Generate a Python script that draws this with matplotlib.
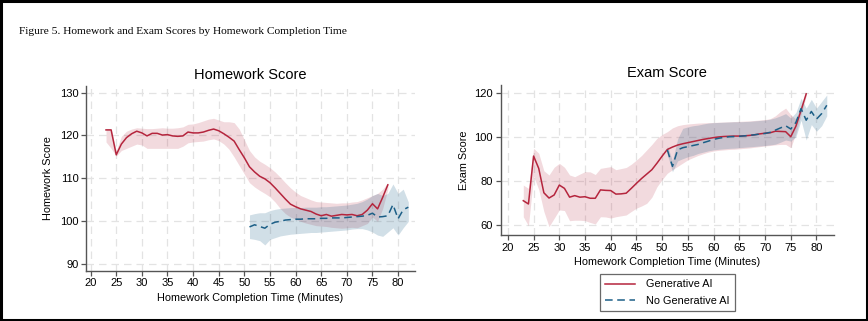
import numpy as np
import matplotlib
matplotlib.use("Agg")
import matplotlib.pyplot as plt
from matplotlib.patches import Rectangle

plt.rcParams['font.family'] = ['Liberation Sans', 'DejaVu Sans']

# %% Data
# Homework score, Generative AI
hw_gen_x = list(range(23, 79))
hw_gen = [121.3, 121.3, 115.5, 118.0, 119.5, 120.4, 121.0, 120.6, 119.9, 120.5,
          120.5, 120.1, 120.2, 119.9, 119.8, 119.9, 120.8, 120.6, 120.6, 120.8,
          121.2, 121.5, 121.1, 120.4, 119.6, 118.7, 116.7, 114.8, 112.7, 111.5,
          110.5, 109.9, 109.0, 107.8, 106.5, 105.2, 104.0, 103.4, 102.9, 102.6,
          102.3, 101.7, 101.3, 101.6, 101.2, 101.4, 101.6, 101.5, 101.6, 101.3,
          101.6, 102.6, 104.1, 102.9, 105.6, 108.5]
hw_gen_hi = [121.6, 121.5, 116.5, 119.8, 121.0, 121.5, 121.8, 121.7, 121.6, 121.6,
             121.7, 121.8, 121.7, 121.7, 121.8, 122.0, 122.6, 122.7, 123.0, 123.4,
             123.8, 124.0, 123.6, 123.2, 123.2, 123.0, 121.5, 119.0, 116.5, 115.0,
             114.0, 113.3, 112.5, 111.5, 110.3, 109.0, 107.8, 106.8, 106.0, 105.5,
             105.0, 104.6, 104.5, 104.4, 104.3, 104.2, 104.3, 104.3, 104.5, 104.6,
             105.0, 105.5, 106.0, 106.5, 107.5, 109.0]
hw_gen_lo = [118.5, 117.0, 115.2, 116.5, 117.0, 117.5, 118.0, 117.8, 117.0, 117.0,
             117.0, 117.0, 117.0, 117.0, 117.0, 117.5, 118.3, 118.5, 118.6, 118.7,
             119.0, 119.2, 118.8, 118.0, 116.8, 115.0, 113.0, 111.0, 109.0, 108.0,
             107.2, 106.5, 105.7, 104.5, 103.0, 101.8, 101.0, 100.5, 100.0, 99.6,
             99.3, 99.0, 98.9, 98.8, 98.6, 98.5, 98.4, 98.5, 98.6, 98.5,
             99.0, 99.5, 101.0, 100.0, 103.0, 107.5]

# Homework score, No Generative AI
hw_nogen_x = list(range(51, 83))
hw_nogen = [98.7, 99.2, 98.8, 98.4, 99.3, 99.8, 100.0, 100.3, 100.4, 100.5,
            100.5, 100.6, 100.6, 100.6, 100.7, 100.7, 100.8, 100.8, 100.8, 100.9,
            101.0, 101.1, 101.2, 101.4, 101.9, 101.0, 101.1, 101.3, 103.9, 100.6,
            102.7, 103.3]
hw_nogen_hi = [101.5, 101.8, 102.0, 102.0, 102.5, 102.8, 103.0, 103.1, 103.2, 103.2,
               103.2, 103.3, 103.3, 103.3, 103.4, 103.4, 103.5, 103.6, 103.7, 103.8,
               104.0, 104.2, 104.6, 105.2, 106.0, 106.5, 106.0, 106.5, 108.7, 106.5,
               107.5, 104.5]
hw_nogen_lo = [96.0, 95.8, 95.5, 94.5, 95.8, 96.2, 96.6, 96.8, 97.0, 97.1,
               97.2, 97.3, 97.4, 97.4, 97.5, 97.6, 97.7, 97.8, 97.9, 98.0,
               98.2, 98.3, 98.3, 98.0, 97.5, 96.8, 96.5, 97.5, 98.5, 96.8,
               98.5, 100.0]

# Exam score, Generative AI
ex_gen_x = list(range(23, 79))
ex_gen = [70.9, 69.4, 91.2, 85.6, 74.5, 72.1, 73.5, 78.0, 76.5, 72.5,
          73.2, 72.5, 72.7, 72.0, 72.0, 75.8, 75.6, 75.5, 73.9, 74.0,
          74.3, 76.5, 78.8, 81.0, 83.0, 85.0, 88.0, 91.2, 94.2, 95.3,
          96.2, 96.8, 97.3, 97.8, 98.3, 98.8, 99.2, 99.6, 99.9, 100.1,
          100.2, 100.3, 100.3, 100.4, 100.6, 100.9, 101.3, 101.6, 101.8, 102.5,
          102.4, 102.3, 100.0, 104.8, 112.0, 119.5]
ex_gen_hi = [78.0, 76.5, 94.7, 92.5, 84.5, 82.6, 86.1, 87.9, 86.1, 82.6,
             81.8, 83.0, 84.1, 84.0, 82.8, 85.6, 86.0, 86.4, 85.0, 85.5,
             86.0, 87.5, 89.4, 91.5, 94.0, 96.5, 99.3, 101.0, 102.3, 104.0,
             105.0, 105.5, 105.8, 106.0, 106.2, 106.3, 106.4, 106.5, 106.6, 106.7,
             106.8, 106.9, 107.0, 107.1, 107.2, 107.4, 107.6, 107.8, 108.2, 109.5,
             111.5, 113.0, 110.0, 108.0, 114.0, 120.5]
ex_gen_lo = [63.6, 59.5, 82.0, 76.0, 66.0, 59.1, 62.9, 66.7, 66.4, 61.8,
             62.0, 62.0, 61.8, 61.0, 60.3, 63.6, 63.5, 63.0, 63.6, 64.0,
             64.4, 66.0, 67.5, 68.5, 69.7, 72.5, 77.3, 80.5, 83.4, 85.0,
             86.5, 88.0, 89.5, 90.5, 91.5, 92.3, 93.0, 93.5, 93.8, 94.0,
             94.2, 94.3, 94.5, 94.7, 94.9, 95.2, 95.5, 95.8, 96.0, 96.3,
             96.5, 96.5, 95.0, 101.5, 110.0, 118.5]

# Exam score, No Generative AI
ex_nogen_x = list(range(51, 83))
ex_nogen = [94.0, 86.5, 94.0, 95.0, 95.5, 96.0, 96.5, 97.3, 98.0, 98.8,
            99.3, 99.7, 100.0, 100.1, 100.2, 100.4, 100.6, 100.9, 101.2, 101.5,
            102.0, 103.0, 104.0, 105.0, 103.5, 106.5, 112.8, 107.5, 111.5, 108.0,
            110.5, 114.3]
ex_nogen_hi = [96.0, 89.0, 99.0, 103.8, 104.5, 105.0, 105.3, 105.8, 106.2, 106.4,
               106.5, 106.6, 106.7, 106.8, 106.8, 106.9, 107.0, 107.2, 107.4, 107.6,
               108.0, 108.6, 109.5, 110.5, 108.5, 111.0, 117.5, 113.0, 117.0, 113.0,
               116.0, 119.0]
ex_nogen_lo = [92.0, 84.0, 89.0, 90.0, 90.9, 91.5, 92.4, 93.0, 93.6, 94.0,
               94.3, 94.5, 94.7, 94.8, 95.0, 95.2, 95.4, 95.6, 95.8, 96.0,
               96.3, 96.6, 97.5, 98.5, 98.0, 100.0, 107.5, 98.5, 105.5, 102.5,
               105.0, 109.5]

x_ticks = list(range(20, 85, 5))
hw_yticks = [90, 100, 110, 120, 130]
ex_yticks = [60, 80, 100, 120]

# %% Style
red = '#b5253d'
blue = '#1c5f87'
axis_col = '#555555'
grid_col = '#e3e3e3'


def style_axis(ax, yticks, ylim, xlim):
    ax.set_xticks(x_ticks)
    ax.set_yticks(yticks)
    ax.set_xlim(*xlim)
    ax.set_ylim(*ylim)
    for s in ['top', 'right']:
        ax.spines[s].set_visible(False)
    for s in ['left', 'bottom']:
        ax.spines[s].set_color(axis_col)
        ax.spines[s].set_linewidth(1.0)
    ax.tick_params(direction='out', length=3.5, width=0.9, color=axis_col,
                   labelsize=8, pad=2)
    ax.grid(True, color=grid_col, linestyle=(0, (6, 4)), linewidth=0.9)
    ax.set_axisbelow(True)
    ax.set_xlabel('Homework Completion Time (Minutes)', fontsize=7.8, labelpad=3)


def draw_panel(ax, gx, g, glo, ghi, nx, n, nlo, nhi):
    ax.fill_between(gx, glo, ghi, color=red, alpha=0.17, linewidth=0)
    ax.fill_between(nx, nlo, nhi, color=blue, alpha=0.2, linewidth=0)
    ax.plot(gx, g, color=red, linewidth=1.1, label='Generative AI')
    ax.plot(nx, n, color=blue, linewidth=1.1, dashes=(5, 3),
            label='No Generative AI')


fig = plt.figure(figsize=(8.68, 3.21), dpi=100)

# black frame round the whole figure
fig.patches.append(Rectangle((0.0015, 0.003), 0.997, 0.994, transform=fig.transFigure,
                             fill=False, edgecolor='black', linewidth=2.2))

fig.text(0.022, 0.903, 'Figure 5. Homework and Exam Scores by Homework Completion Time',
         family=['Liberation Serif', 'DejaVu Serif'], fontsize=8.2, va='center')

# %% Homework panel
ax1 = fig.add_axes([0.0991, 0.1567, 0.379, 0.575])
draw_panel(ax1, hw_gen_x, hw_gen, hw_gen_lo, hw_gen_hi,
           hw_nogen_x, hw_nogen, hw_nogen_lo, hw_nogen_hi)
style_axis(ax1, hw_yticks, (88.5, 131.5), (19.1, 83.3))
ax1.set_ylabel('Homework Score', fontsize=7.8, labelpad=5)
ax1.set_title('Homework Score', fontsize=10.5, pad=5)

# %% Exam panel
ax2 = fig.add_axes([0.5768, 0.268, 0.384, 0.467])
draw_panel(ax2, ex_gen_x, ex_gen, ex_gen_lo, ex_gen_hi,
           ex_nogen_x, ex_nogen, ex_nogen_lo, ex_nogen_hi)
style_axis(ax2, ex_yticks, (55.3, 123.5), (18.6, 83.4))
ax2.set_ylabel('Exam Score', fontsize=7.8, labelpad=4)
ax2.set_title('Exam Score', fontsize=10.5, pad=6)

handles, labels = ax2.get_legend_handles_labels()
leg = fig.legend(handles, labels, loc='upper center', bbox_to_anchor=(0.769, 0.1464),
                 fontsize=7.8, frameon=True, fancybox=False, handlelength=2.8,
                 borderpad=0.5, labelspacing=0.6, handletextpad=1.0,
                 borderaxespad=0)
leg.get_frame().set_edgecolor('#444444')
leg.get_frame().set_linewidth(0.9)

fig.savefig('out.png', dpi=100)
